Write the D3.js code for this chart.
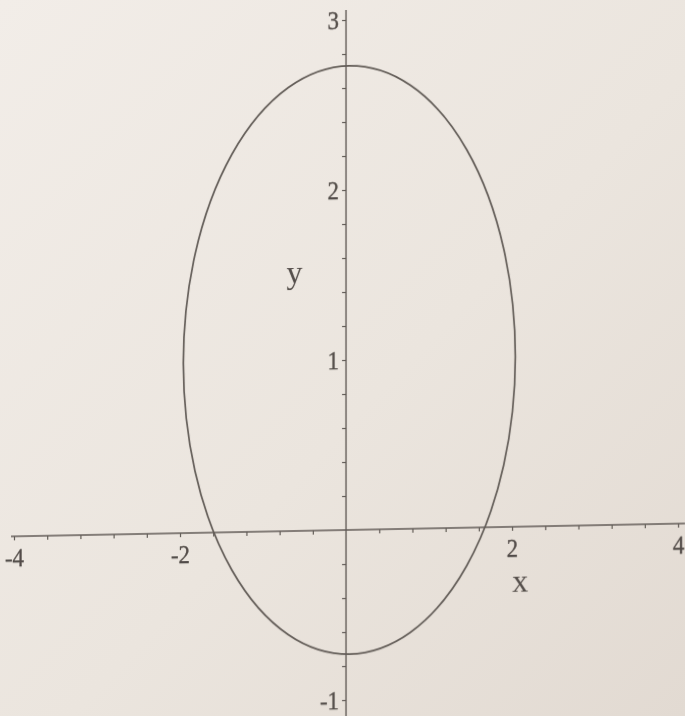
<!DOCTYPE html>
<html>
<head>
<meta charset="utf-8">
<script src="https://cdn.jsdelivr.net/npm/d3@7"></script>
<style>
  html, body { margin: 0; padding: 0; background: #ebe5de; }
  svg { display: block; }
</style>
</head>
<body>
<script>
// Axis ranges, tick labels and minor tick steps
const xDomain = [-4, 4];
const yDomain = [-1, 3];
const xTickLabels = [-4, -2, 2, 4];
const yTickLabels = [-1, 1, 2, 3];
const xMinorStep = 0.4;
const yMinorStep = 0.2;
const axisTitles = ["x", "y"];

// Ellipse: centre (x, y) and semi-axes (x, y)
const ellipseCenter = [0.04, 1];
const ellipseRadii = [2, 1.73];

const W = 685, H = 716;
const ink = "#625c57";
const textInk = "#524c48";
const serif = "'Liberation Serif', 'DejaVu Serif', serif";

const x = d3.scaleLinear().domain(xDomain).range([14, 678]);
const y = d3.scaleLinear().domain(yDomain).range([700, 20]);

const svg = d3.select("body").append("svg")
  .attr("width", W).attr("height", H);

const defs = svg.append("defs");
const paper = defs.append("linearGradient").attr("id", "paper")
  .attr("x1", "0").attr("y1", "0").attr("x2", "1").attr("y2", "1");
paper.append("stop").attr("offset", "0%").attr("stop-color", "#f2ede8");
paper.append("stop").attr("offset", "55%").attr("stop-color", "#ebe5de");
paper.append("stop").attr("offset", "100%").attr("stop-color", "#e2dad2");
defs.append("filter").attr("id", "soft")
  .append("feGaussianBlur").attr("stdDeviation", 0.45);

svg.append("rect").attr("width", W).attr("height", H).attr("fill", "url(#paper)");

const ox = x(0), oy = y(0);
const plot = svg.append("g")
  .attr("filter", "url(#soft)")
  .attr("transform", `translate(${ox},${oy}) skewY(-1.1) translate(${-ox},${-oy})`);

// Tick positions
const xMinor = d3.range(Math.round((xDomain[1] - xDomain[0]) / xMinorStep) + 1)
  .map(i => +(xDomain[0] + i * xMinorStep).toFixed(2));
const yMinor = d3.range(Math.round((yDomain[1] - yDomain[0]) / yMinorStep) + 1)
  .map(i => +(yDomain[0] + i * yMinorStep).toFixed(2));

function styleLabels(sel) {
  sel.attr("fill", textInk)
    .attr("stroke", textInk).attr("stroke-width", 0.35)
    .attr("font-family", serif).attr("font-size", 26)
    .attr("transform", "scale(0.88,1)");
}

// x axis
const xAxis = d3.axisBottom(x)
  .tickValues(xMinor)
  .tickSize(4)
  .tickPadding(8)
  .tickFormat(d => xTickLabels.includes(d) ? String(d) : "");
const gx = plot.append("g").attr("transform", `translate(0,${oy})`).call(xAxis);
gx.select(".domain").remove();
gx.selectAll(".tick").filter(d => d === 0).remove();
gx.selectAll(".tick line").attr("stroke", ink).attr("stroke-width", 1.2);
gx.selectAll(".tick text").call(styleLabels);
plot.append("line")
  .attr("x1", 11).attr("x2", W).attr("y1", oy).attr("y2", oy)
  .attr("stroke", ink).attr("stroke-width", 1.4);

// y axis
const yAxis = d3.axisLeft(y)
  .tickValues(yMinor)
  .tickSize(4)
  .tickPadding(4)
  .tickFormat(d => yTickLabels.includes(d) ? String(d) : "");
const gy = plot.append("g").attr("transform", `translate(${ox},0)`).call(yAxis);
gy.select(".domain").remove();
gy.selectAll(".tick").filter(d => d === 0).remove();
gy.selectAll(".tick line").attr("stroke", ink).attr("stroke-width", 1.2);
gy.selectAll(".tick text").call(styleLabels);
plot.append("line")
  .attr("x1", ox).attr("x2", ox).attr("y1", 10).attr("y2", H)
  .attr("stroke", ink).attr("stroke-width", 1.4);

// Axis titles
plot.append("text")
  .attr("x", x(2.1)).attr("y", y(-0.38))
  .attr("text-anchor", "middle")
  .attr("font-family", serif).attr("font-size", 32)
  .attr("fill", textInk)
  .text(axisTitles[0]);
plot.append("text")
  .attr("x", x(-0.62)).attr("y", y(1.46))
  .attr("text-anchor", "middle")
  .attr("font-family", serif).attr("font-size", 32)
  .attr("fill", textInk)
  .text(axisTitles[1]);

// The ellipse curve
plot.append("ellipse")
  .attr("cx", x(ellipseCenter[0]))
  .attr("cy", y(ellipseCenter[1]))
  .attr("rx", x(ellipseCenter[0] + ellipseRadii[0]) - x(ellipseCenter[0]))
  .attr("ry", y(ellipseCenter[1]) - y(ellipseCenter[1] + ellipseRadii[1]))
  .attr("fill", "none")
  .attr("stroke", ink)
  .attr("stroke-width", 1.7);
</script>
</body>
</html>
